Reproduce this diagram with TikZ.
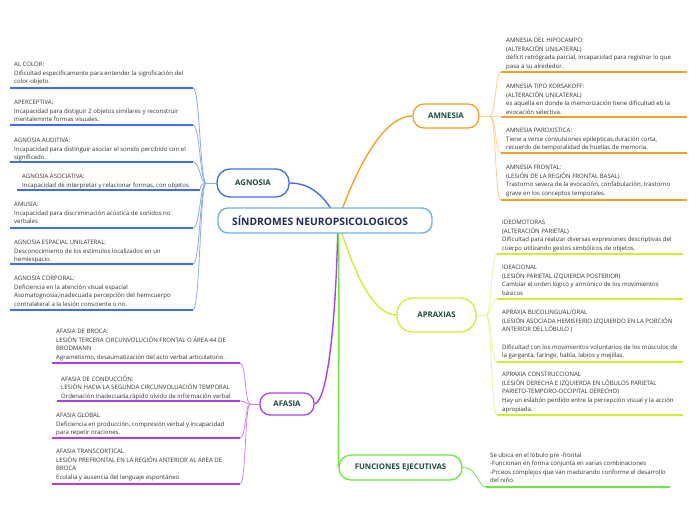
\documentclass[tikz,border=0pt]{standalone}
\usepackage{fontspec}
\setmainfont{Open Sans}
\definecolor{cblue}{HTML}{3F6EF2}
\definecolor{cblueL}{HTML}{8AAAF5}
\definecolor{corange}{HTML}{F6A02A}
\definecolor{corangeL}{HTML}{FBCF86}
\definecolor{clime}{HTML}{D2EE30}
\definecolor{climeL}{HTML}{E6F78E}
\definecolor{cpurple}{HTML}{B03CF0}
\definecolor{cpurpleL}{HTML}{CC85F6}
\definecolor{cgreen}{HTML}{6DE83A}
\definecolor{ccentral}{HTML}{6FB3E8}
\definecolor{ntext}{HTML}{1D4A3C}
\definecolor{ctext}{HTML}{1F2D5C}
\definecolor{itext}{HTML}{333333}
\tikzset{
  itm/.style={font=\fontsize{6.05}{8.6}\selectfont, align=left, inner sep=0pt, anchor=north west, text=itext},
  branch/.style={draw=#1, line width=1.3pt, fill=white, font=\fontsize{7.8}{9}\selectfont\bfseries, text=ntext, inner sep=0pt},
  mainln/.style={draw=#1, line width=1.4pt},
  brk/.style={draw=#1, line width=0.8pt},
  uline/.style={draw=#1, line width=1.6pt},
}
\begin{document}
\begin{tikzpicture}[x=1pt,y=-1pt]
\useasboundingbox (0,0) rectangle (696,520);
\fill[white] (0,0) rectangle (696,520);

\coordinate (hub) at (338,221);

% branch nodes
\node[branch=cblue, minimum width=72pt, minimum height=28pt, rounded corners=13pt] (agnosia) at (253,183) {AGNOSIA};
\node[branch=corange, minimum width=66pt, minimum height=24pt, rounded corners=11pt] (amnesia) at (446,116) {AMNESIA};
\node[branch=clime, minimum width=79pt, minimum height=34pt, rounded corners=16pt] (apraxias) at (436.5,315) {APRAXIAS};
\node[branch=cpurple, minimum width=54pt, minimum height=22pt, rounded corners=10pt] (afasia) at (287,404) {AFASIA};
\node[branch=cgreen, minimum width=123pt, minimum height=25pt, rounded corners=12pt] (funciones) at (400.5,467.5) {FUNCIONES EJECUTIVAS};

% main connectors
\draw[mainln=cblue] (hub) .. controls (325,195) and (310,183) .. (agnosia.east);
\draw[mainln=corange] (hub) .. controls (352,180) and (380,116) .. (amnesia.west);
\draw[mainln=clime] (hub) .. controls (350,260) and (370,315) .. (apraxias.west);
\draw[mainln=cpurple] (hub) .. controls (336,320) and (328,400) .. (afasia.east);
\draw[mainln=cgreen] (hub) .. controls (340,300) and (338,440) .. (funciones.west);

% central node
\node[draw=ccentral, line width=1.4pt, fill=white, rounded corners=10pt, minimum width=214pt, minimum height=25pt, inner sep=0pt, font=\fontsize{10.3}{12}\selectfont\bfseries, text=ctext] (central) at (325,220.5) {SÍNDROMES NEUROPSICOLOGICOS\hspace*{10pt}};

% ===== AGNOSIA items =====
\coordinate (agB) at (206,183);
\draw[brk=cblueL] (agnosia.west) -- (agB);
\foreach \y/\xa/\xb in {88/193/10, 125/193/10, 162/193/10, 190/200/17, 228/193/10, 264/193/10, 310/193/10}{
  \draw[brk=cblueL] (agB) .. controls (200,183) and (200,\y) .. (\xa,\y);
  \draw[uline=cblue] (\xa,\y) -- (\xb,\y);
}
\node[itm] (ag1) at (14,62.2) {AL COLOR:\\Dificultad especificamente para entender la significación del\\color-objeto.};
\node[itm] (ag2) at (14,100.2) {APERCEPTIVA:\\Incapacidad para distiguir 2 objetos similares y reconstruir\\mentalemnte formas visuales.};
\node[itm] (ag3) at (14,138.2) {AGNOSIA AUDITIVA:\\Incapacidad para distinguir asociar el sonido percibido con el\\significado.};
\node[itm] (ag4) at (22,174.2) {AGNOSIA ASOCIATIVA:\\Incapacidad de interpretar y relacionar formas, con objetos};
\node[itm] (ag5) at (14,202.2) {AMUSIA:\\Incapacidad para discriminación acústica de sonidos no\\verbales};
\node[itm] (ag6) at (14,240.2) {AGNOSIA ESPACIAL UNILATERAL:\\Desconocimiento de los estimulos localizados en un\\hemiespacio.};
\node[itm] (ag7) at (14,276.2) {AGNOSIA CORPORAL:\\Deficiencia en la atención visual espacial\\Asomatognosia,inadecuada percepción del hemicuerpo\\contralateral a la lesión consciente o no.};

% ===== AMNESIA items =====
\coordinate (amB) at (490,116);
\draw[brk=corangeL] (amnesia.east) -- (amB);
\foreach \y in {72,117,153,200}{
  \draw[brk=corangeL] (amB) .. controls (496,116) and (495,\y) .. (501,\y);
  \draw[uline=corange] (501,\y) -- (687,\y);
}
\node[itm] (am1) at (506,38.2) {AMNESIA DEL HIPOCAMPO:\\(ALTERACIÓN UNILATERAL)\\déficit retrógrada parcial, incapacidad para registrar lo que\\pasa a su alrededor.};
\node[itm] (am2) at (506,84.2) {AMNESIA TIPO KORSAKOFF:\\(ALTERACIÓN UNILATERAL)\\es aquella en donde la memorización  tiene dificultad eb la\\evocación selectiva.};
\node[itm] (am3) at (506,128.2) {AMNESIA PAROXISTICA:\\Tiene a verse convulsiones epilepticas,duración corta,\\recuerdo de temporalidad de huellas de memoria.};
\node[itm] (am4) at (506,165.2) {AMNESIA FRONTAL:\\(LESIÓN DE LA REGIÓN FRONTAL BASAL)\\Trastorno severa de la evocación, confabulación, trastorno\\grave en los conceptos temporales.};

% ===== APRAXIAS items =====
\coordinate (apB) at (486,315);
\draw[brk=climeL] (apraxias.east) -- (apB);
\foreach \y in {254,299,362,415}{
  \draw[brk=climeL] (apB) .. controls (492,315) and (491,\y) .. (497,\y);
  \draw[uline=clime] (497,\y) -- (683,\y);
}
\node[itm] (ap1) at (502,220.2) {IDEOMOTORAS\\(ALTERACIÓN PARIETAL)\\Dificultad para realizar diversas expresiones descriptivas del\\cuerpo utilizando gestos simbólicos de objetos.};
\node[itm] (ap2) at (502,265.2) {IDEACIONAL\\(LESIÓN PARIETAL IZQUIERDA POSTERIOR)\\Cambiar el orden lógico y armónico de los movimientos\\básicos};
\node[itm] (ap3) at (502,310.2) {APRAXIA BUCOLINGUAL/ORAL\\(LESIÓN ASOCIADA HEMISFERIO IZQUIERDO EN LA PORCIÓN\\ANTERIOR DEL LÓBULO )\\[8.6pt]Dificultad con los movimientos voluntarios de los músculos de\\la garganta, faringe, habla, labios y mejillas.};
\node[itm] (ap4) at (502,372.2) {APRAXIA CONSTRUCCIONAL\\(LESIÓN DERECHA E IZQUIERDA EN LÓBULOS PARIETAL\\PARIETO-TEMPORO-OCCIPITAL DERECHO)\\Hay un eslabón perdido entre la percepción visual y la acción\\apropiada.};

% ===== AFASIA items =====
\coordinate (afB) at (250,404);
\draw[brk=cpurpleL] (afasia.west) -- (afB);
\foreach \y/\xb in {363/52, 401/57, 438/52, 484/52}{
  \draw[brk=cpurpleL] (afB) .. controls (245,404) and (246,\y) .. (240,\y);
  \draw[uline=cpurple] (240,\y) -- (\xb,\y);
}
\node[itm] (af1) at (56,329.2) {AFASIA DE BROCA:\\LESIÓN TERCERA CIRCUNVOLUCIÓN FRONTAL O ÁREA 44 DE\\BRODMANN\\Agrametismo, desaumatización del acto verbal articulatorio .};
\node[itm] (af2) at (61,375.2) {AFASIA DE CONDUCCIÓN:\\LESIÓN HACIA LA SEGUNDA CIRCUNVOLUACIÓN TEMPORAL\\Ordenación inadecuada,rápido olvido de información verbal};
\node[itm] (af3) at (56,413.2) {AFASIA GLOBAL\\Deficiencia en producción, compresión verbal y incapacidad\\para repetir oraciones.};
\node[itm] (af4) at (56,449.2) {AFASIA TRANSCORTICAL\\LESIÓN PREFRONTAL EN LA REGIÓN ANTERIOR AL ÁREA DE\\BROCA\\Ecolalia y ausencia del lenguaje espontáneo};

% ===== FUNCIONES item =====
\coordinate (fuB) at (486,487);
\draw[brk=cgreen] (funciones.east) .. controls (478,467.5) and (478,487) .. (fuB);
\draw[uline=cgreen] (fuB) -- (670,487);
\node[itm] (fu1) at (490,452.2) {Se ubica en el lóbulo pre -frontal\\-Funcionan en forma conjunta en varias combinaciones\\-Prceos complejos que van madurando conforme el desarrollo\\del niño.};
\end{tikzpicture}
\end{document}
